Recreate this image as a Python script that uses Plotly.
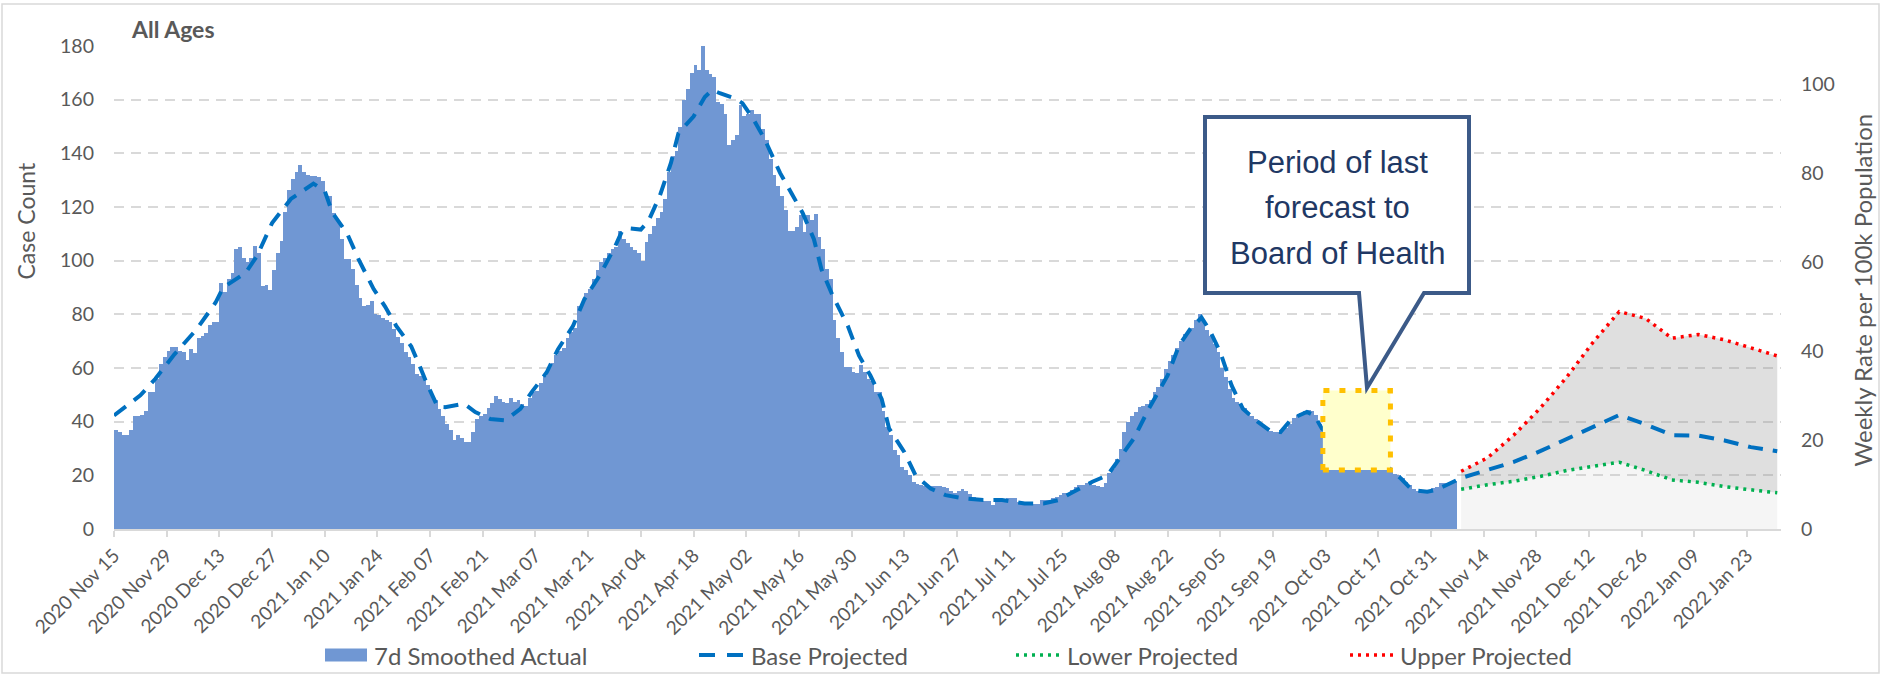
import pandas as pd
import plotly.graph_objects as go

# ---------------- data ----------------
START = "2020-11-15"  # first day of the actual series

# 7-day smoothed actual daily case count, one value per day from START
actual_cases = [
    37, 36, 35, 35, 37, 42, 42, 42.5, 44, 51,
    51, 56, 61.5, 64, 66.5, 68, 68, 66.5, 66, 63,
    67, 65.5, 71, 72, 73, 76, 77, 77, 91.5, 88.5,
    93, 95.5, 104.5, 105, 101, 99.5, 101, 105.5, 103, 90.5,
    91, 89, 96.5, 103, 107.5, 118, 126.5, 130.5, 133, 135.5,
    133, 132, 131.7, 131.4, 131, 129.6, 125, 124, 117.8, 114.7,
    108, 100.7, 100.5, 96.8, 91, 86, 83, 83.4, 85, 80,
    79.7, 78.8, 78, 77, 74.5, 71.4, 69.5, 65.8, 64, 61.5,
    57.8, 57.2, 57.2, 53.5, 50.4, 47.9, 44.6, 42, 39,
    37, 33, 35, 34, 32.5, 32.5, 36, 41, 42, 43,
    45, 47, 49.5, 48.5, 47.5, 47, 49, 47.5, 48, 46.5,
    46, 49, 51, 51.5, 54.5, 57, 60.5, 62, 65, 66.5,
    67.5, 71, 73.5, 75, 83, 84.5, 88, 89.5, 93, 96.5,
    99.5, 101, 103, 104.5, 105, 111, 108, 106.5, 105, 104,
    103, 100, 107, 110, 113, 116, 118, 123, 133, 139,
    141, 150, 160, 164, 170, 173, 171, 180, 171, 169.5,
    168.5, 159, 158.5, 154.5, 143, 145, 147, 158, 154, 154.5,
    156, 154.5, 154.5, 149, 145, 138, 132, 128,
    124, 119, 111, 111, 112.5, 117, 110.5, 117, 115, 117.5,
    109, 104.5, 97, 93, 78, 71, 66, 60.5, 60.5, 58.5,
    58, 61, 58.5, 56, 55, 51, 51, 44, 38, 35,
    29.5, 27.5, 23, 22, 20, 17.5, 16.6, 16.5, 16.1, 16.1,
    16, 16, 16, 15.5, 15.3, 14, 13.6, 14.1, 15, 14,
    13, 12, 11.4, 10.4, 10.4, 10.4, 9, 11, 11.1, 11.1,
    11.4, 11.6, 11.6, 10.1, 10.1, 10, 10, 9.5, 9.5, 10.8,
    10.8, 10.8, 11.5, 12, 12.5, 13.3, 13.6, 14.5, 15.5, 16.3,
    16.5, 17, 17, 16.5, 16.2, 15.7,
    17, 21, 22.5, 26, 30, 36, 40, 42, 43.6, 45.4,
    46, 46.7, 48, 51, 53, 56, 59.5, 62.5, 65, 67.5,
    70, 72.5, 73.5, 75, 78, 80, 78, 74, 72, 69,
    66, 60, 56.5, 52, 49, 47.5, 46.5, 45, 43, 42,
    41, 39.5, 38.5, 37.5, 36.5, 36.1, 36.1, 36.5, 37.5, 39,
    41.5, 42.5, 43.3, 44, 44.2, 44, 42.5, 39, 37, 35.5,
    34.5, 33.5, 32, 31.5, 30.5, 29, 28.5, 28, 27, 26.5,
    25.5, 25, 24, 24, 23.5, 23, 22, 20.5, 20, 19,
    17.6, 16.5, 15, 14, 13.9, 13.9, 14.5, 15.1, 15.5, 17,
    17.2, 17.3, 17.6, 17.8,
]

# Base projected (fitted) curve over the actual period: day offset from START, cases
base_hist_day = [
    0, 7, 11, 16, 22, 27, 29, 35, 38, 42, 47, 51, 53, 56, 58, 62, 65, 69, 72, 75,
    79, 81, 83, 86, 88, 93, 96, 100, 104, 108, 111, 115, 118, 122, 125, 129, 133, 135, 137, 140,
    142, 145, 148, 150, 154, 157, 159, 161, 165, 167, 170, 173, 175, 177, 180, 183, 186, 188, 191, 195,
    198, 201, 204, 206, 210, 213, 217, 221, 226, 231, 236, 242, 247, 251, 255, 260, 264, 266, 271, 275,
    280, 283, 286, 289, 291, 294, 297, 300, 304, 307, 310, 313, 317, 319, 321, 330, 339, 342, 345, 349,
    351, 354, 356,
]
base_hist_cases = [
    42.3, 49.8, 56, 65, 74.5, 84.4, 90, 95.5, 101.7, 114, 123, 127, 128.7, 126, 118, 110, 100.5, 89.4, 83, 75.7,
    68, 61.5, 54.7, 45.5, 45.4, 46.7, 43.6, 41, 40.5, 44.8, 51, 58.4, 67, 75.7, 85.6, 94.3, 104.8, 111, 112, 111.6,
    114.7, 124, 136.4, 147.5, 153.7, 161, 163.6, 162.4, 160.5, 158.7, 152.5, 145, 138.9, 132.7, 125.2, 117.8, 108, 96.8, 86.9, 75.7,
    64.6, 57.2, 48.5, 37.4, 28.7, 20, 15.1, 12.6, 11.4, 10.8, 10.8, 9.5, 9.5, 10.8, 13.9, 17.6, 20, 23.8, 33.7, 44.8,
    57.2, 68.3, 74.5, 78.8, 74.5, 65.8, 53.5, 44.8, 39.9, 36.8, 36.1, 41.1, 43.6, 42.3, 37.4, 29, 22.5, 18.8, 14.5, 13.9,
    14.5, 16.3, 17.6,
]

# Weekly projections
PROJ_START = "2021-11-08"
proj_base = [19, 22, 25, 29, 33.5, 38, 42.5, 39, 35, 34.8, 33, 30.5, 29]
proj_lower = [14.8, 16.5, 17.8, 19.6, 21.8, 23.4, 24.9, 21.8, 18.3, 17.4, 15.8, 14.6, 13.5]
proj_upper = [21.5, 26.5, 35, 45, 56.5, 69.5, 81, 78.5, 71.1, 72.5, 70.5, 67.5, 64.5]

# Highlighted period of last forecast (dates and case-count span)
box_dates = ["2021-10-02 06:00", "2021-10-20 05:00"]
box_cases = [22, 51.6]

callout_lines = ["Period of last", "forecast to", "Board of Health"]
legend_labels = ["7d Smoothed Actual", "Base Projected", "Lower Projected", "Upper Projected"]

X_RANGE = ["2020-11-15", "2022-02-01"]
Y_RANGE = [0, 180]
Y2_RANGE = [0, 108.6]

# ---------------- derived series ----------------
start = pd.Timestamp(START)
actual_dates = pd.date_range(START, periods=len(actual_cases), freq="D")
base_hist_dates = [start + pd.Timedelta(days=d) for d in base_hist_day]
proj_dates = list(pd.date_range(PROJ_START, periods=len(proj_base), freq="7D"))
base_dates = base_hist_dates + proj_dates
base_cases = base_hist_cases + proj_base

# ---------------- geometry helpers (pixels -> paper) ----------------
W, H = 1881, 675
ML, MR, MT, MB = 114, 100, 46, 146
PW, PH = W - ML - MR, H - MT - MB


def px(x):
    return (x - ML) / PW


def py(y):
    return (MT + PH - y) / PH


FONT = "Lato, 'Open Sans', sans-serif"
GREY = "#595959"
BAR = "#7097d3"
BLUE = "#0070c0"
GREEN = "#00b050"
RED = "#ff0000"

fig = go.Figure()

fig.add_trace(go.Bar(
    x=actual_dates, y=actual_cases, name=legend_labels[0],
    xperiod=86400000, xperiodalignment="middle",
    marker=dict(color=BAR, line=dict(width=0)), showlegend=False,
))
fig.add_trace(go.Scatter(
    x=proj_dates, y=proj_lower, mode="lines", line=dict(width=0),
    fill="tozeroy", fillcolor="rgba(190,190,190,0.16)", showlegend=False, hoverinfo="skip",
))
fig.add_trace(go.Scatter(
    x=proj_dates, y=proj_upper, mode="lines", line=dict(width=0),
    fill="tonexty", fillcolor="rgba(150,150,150,0.30)", showlegend=False, hoverinfo="skip",
))
fig.add_trace(go.Scatter(
    x=base_dates, y=base_cases, mode="lines", name=legend_labels[1],
    line=dict(color=BLUE, width=4, dash="15px,10px"), showlegend=False,
))
fig.add_trace(go.Scatter(
    x=proj_dates, y=proj_lower, mode="lines", name=legend_labels[2],
    line=dict(color=GREEN, width=3.5, dash="3px,5px"), showlegend=False,
))
fig.add_trace(go.Scatter(
    x=proj_dates, y=proj_upper, mode="lines", name=legend_labels[3],
    line=dict(color=RED, width=3.5, dash="3px,5px"), showlegend=False,
))
# anchor trace for the right-hand (rate) axis
fig.add_trace(go.Scatter(
    x=[actual_dates[0]], y=[0], yaxis="y2", mode="markers",
    marker=dict(opacity=0), showlegend=False, hoverinfo="skip",
))

shapes = []
# outer chart border
shapes.append(dict(type="rect", xref="paper", yref="paper",
                   x0=px(2), x1=px(1879), y0=py(673), y1=py(4),
                   line=dict(color="#d9d9d9", width=1.5), layer="below"))
# highlighted period box
shapes.append(dict(type="rect", xref="x", yref="y",
                   x0=box_dates[0], x1=box_dates[1], y0=box_cases[0], y1=box_cases[1],
                   fillcolor="#ffffcc", line=dict(color="#ffc000", width=5, dash="6px,10px"),
                   layer="above"))
# callout balloon
L_, R_, T_, B_ = 1205, 1469, 117, 293
path = (f"M{px(L_)},{py(T_)} L{px(R_)},{py(T_)} L{px(R_)},{py(B_)} "
        f"L{px(1424)},{py(B_)} L{px(1367)},{py(388)} L{px(1359)},{py(B_)} "
        f"L{px(L_)},{py(B_)} Z")
shapes.append(dict(type="path", xref="paper", yref="paper", path=path,
                   fillcolor="white", line=dict(color="#3c5a88", width=4), layer="above"))

# legend swatches
LEG_Y = 655
shapes.append(dict(type="rect", xref="paper", yref="paper",
                   x0=px(325), x1=px(367), y0=py(LEG_Y + 6.5), y1=py(LEG_Y - 6.5),
                   fillcolor=BAR, line=dict(width=0)))
shapes.append(dict(type="line", xref="paper", yref="paper",
                   x0=px(699), x1=px(744), y0=py(LEG_Y), y1=py(LEG_Y),
                   line=dict(color=BLUE, width=4, dash="16px,12px")))
shapes.append(dict(type="line", xref="paper", yref="paper",
                   x0=px(1016), x1=px(1059), y0=py(LEG_Y), y1=py(LEG_Y),
                   line=dict(color=GREEN, width=3.5, dash="3px,5px")))
shapes.append(dict(type="line", xref="paper", yref="paper",
                   x0=px(1350), x1=px(1393), y0=py(LEG_Y), y1=py(LEG_Y),
                   line=dict(color=RED, width=3.5, dash="3px,5px")))

annotations = [
    dict(text="<b>All Ages</b>", xref="paper", yref="paper", x=px(129), y=py(29),
         xanchor="left", yanchor="middle", showarrow=False,
         font=dict(family=FONT, size=23, color=GREY)),
    dict(text="Case Count", xref="paper", yref="paper", x=px(25), y=py(161),
         xanchor="center", yanchor="top", textangle=-90, showarrow=False,
         font=dict(family=FONT, size=23, color=GREY)),
    dict(text="Weekly Rate per 100k Population", xref="paper", yref="paper", x=px(1862), y=py(469),
         xanchor="center", yanchor="bottom", textangle=-90, showarrow=False,
         font=dict(family=FONT, size=24, color=GREY)),
]
CALLOUT_FONT = dict(family="'Liberation Sans', Arial, sans-serif", size=31, color="#1f3864")
for ypix, line in zip([162, 207, 253], callout_lines):
    annotations.append(dict(text=line, xref="paper", yref="paper", x=px(1337), y=py(ypix),
                            xanchor="center", yanchor="middle", showarrow=False,
                            font=CALLOUT_FONT))
for xpix, label in zip([372, 749, 1065, 1398], legend_labels):
    annotations.append(dict(text=label, xref="paper", yref="paper", x=px(xpix), y=py(LEG_Y),
                            xanchor="left", yanchor="middle", showarrow=False,
                            font=dict(family=FONT, size=24, color=GREY)))

fig.update_layout(
    template="none",
    width=W, height=H,
    margin=dict(l=ML, r=MR, t=MT, b=MB, pad=0),
    paper_bgcolor="white", plot_bgcolor="white",
    bargap=0, showlegend=False,
    font=dict(family=FONT, color=GREY),
    xaxis=dict(
        type="date", range=X_RANGE, tick0=START, dtick=14 * 86400000,
        tickformat="%Y %b %d", tickangle=-45,
        ticks="outside", ticklen=6, tickwidth=1.5, tickcolor="#d9d9d9",
        showline=True, linecolor="#d9d9d9", linewidth=2,
        showgrid=False, zeroline=False, automargin=False,
        tickfont=dict(family=FONT, size=19, color=GREY),
    ),
    yaxis=dict(
        range=Y_RANGE, dtick=20, tick0=0,
        showgrid=True, gridcolor="#d9d9d9", gridwidth=1.5, griddash="10px,7px",
        zeroline=False, showline=False, ticks="", ticklabelstandoff=19,
        automargin=False, tickfont=dict(family=FONT, size=19.5, color=GREY),
    ),
    yaxis2=dict(
        range=Y2_RANGE, dtick=20, tick0=0, overlaying="y", side="right",
        showgrid=False, zeroline=False, showline=False, ticks="", ticklabelstandoff=19,
        automargin=False, tickfont=dict(family=FONT, size=19.5, color=GREY),
    ),
    shapes=shapes,
    annotations=annotations,
)

fig.write_html("out.html", config={"displayModeBar": False},
               post_script="document.body.style.margin='0';")
